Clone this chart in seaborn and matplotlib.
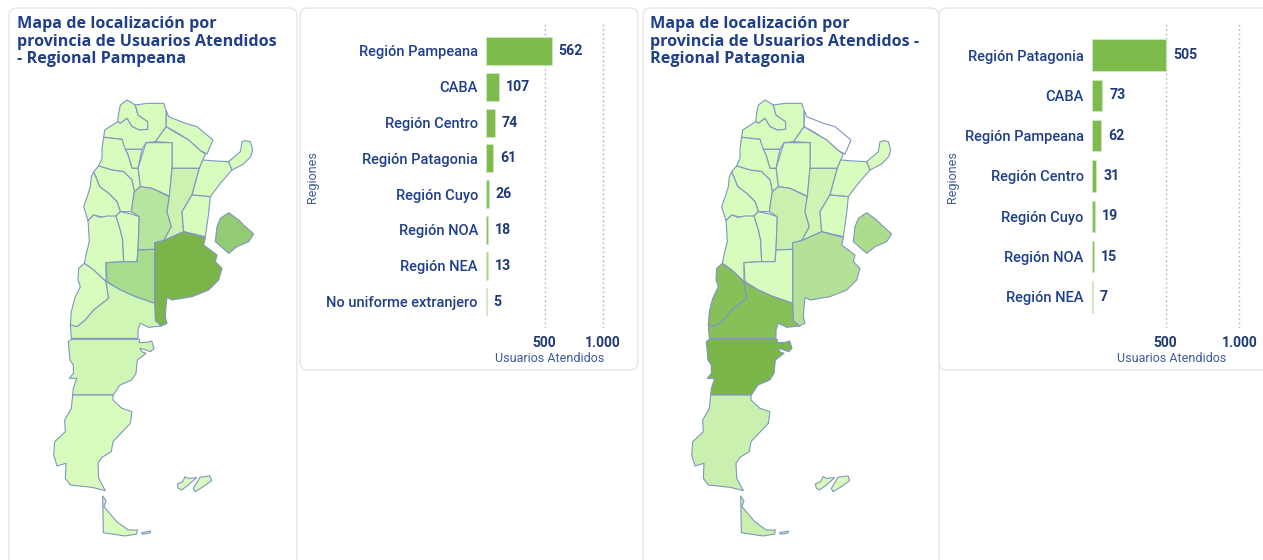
import matplotlib
matplotlib.use("Agg")
import matplotlib.pyplot as plt
from matplotlib.patches import FancyBboxPatch
import pandas as pd
import seaborn as sns

# ---- bar data
regions_a = ["Región Pampeana", "CABA", "Región Centro", "Región Patagonia", "Región Cuyo",
             "Región NOA", "Región NEA", "No uniforme extranjero"]
values_a = [562, 107, 74, 61, 26, 18, 13, 5]
colors_a = ["#7DBB4C", "#7DBB4C", "#7DBB4C", "#7DBB4C", "#84C057", "#84C057", "#A8D88C", "#D3F2BE"]
regions_b = ["Región Patagonia", "CABA", "Región Pampeana", "Región Centro", "Región Cuyo",
             "Región NOA", "Región NEA"]
values_b = [505, 73, 62, 31, 19, 15, 7]
colors_b = ["#7DBB4C", "#7DBB4C", "#7DBB4C", "#7DBB4C", "#84C057", "#84C057", "#C9ECB2"]
xticks = [500, 1000]
xticklabels = ["500", "1.000"]
title_a = "Mapa de localización por\nprovincia de Usuarios Atendidos\n- Regional Pampeana"
title_b = "Mapa de localización por\nprovincia de Usuarios Atendidos -\nRegional Patagonia"

# ---- province outlines (map units)
formosa = [(343,62),(350,80),(400,100),(435,110),(483,150),(465,192),(445,182),(410,150),(370,125),(342,110)]
chaco = [(342,110),(375,130),(410,150),(445,182),(460,192),(442,235),(360,235),(360,158),(310,155)]
santiago = [(282,158),(360,158),(360,235),(352,320),(345,315),(300,295),(265,290),(258,235)]
jujuy = [(197,95),(200,70),(205,45),(225,30),(250,45),(258,75),(287,95),(287,118),(262,120),(240,110),(225,85),(205,100)]
salta = [(250,45),(285,40),(335,40),(342,60),(342,110),(310,155),(282,158),(270,178),(220,178),(215,175),
         (210,148),(155,142),(158,120),(197,95),(205,100),(225,85),(240,110),(262,120),(287,118),(287,95),(258,75)]
tucuman = [(220,178),(270,178),(258,235),(240,235),(228,195)]
catamarca = [(155,142),(210,148),(220,178),(228,195),(240,235),(258,235),(265,290),(247,305),(240,270),
             (215,245),(180,240),(140,228),(150,205),(150,175)]
la_rioja = [(140,228),(180,240),(215,245),(240,270),(247,305),(238,365),(205,365),(195,335),(170,310),
            (143,290),(125,245)]
san_juan = [(125,245),(143,290),(170,310),(195,335),(205,365),(192,378),(165,385),(145,380),(125,375),
            (108,392),(95,350),(105,322),(115,290),(118,260)]
mendoza = [(108,392),(125,375),(145,382),(165,378),(192,378),(205,420),(212,450),(215,515),(162,518),(162,575),
           (125,540),(97,520),(103,490),(112,455),(110,420)]
san_luis = [(192,378),(205,365),(238,372),(262,380),(258,480),(255,515),(215,515),(212,450),(205,420)]
cordoba = [(238,365),(247,305),(265,290),(300,295),(352,320),(345,365),(358,410),(335,452),(308,458),
           (308,478),(258,480),(262,380)]
santa_fe = [(360,235),(442,235),(420,315),(390,365),(395,425),(335,452),(358,410),(345,365),(352,320)]
corrientes = [(452,210),(490,213),(530,215),(540,240),(505,280),(475,320),(420,315),(442,235)]
misiones = [(530,215),(565,185),(570,155),(582,152),(595,155),(602,180),(596,200),(575,222),(540,240)]
entre_rios = [(420,315),(475,320),(470,370),(460,440),(395,425),(390,365)]
buenos_aires = [(308,458),(335,452),(395,425),(460,443),(455,465),(495,495),(490,515),(510,535),(500,570),(470,600),
                (420,620),(360,630),(345,622),(342,650),(340,680),(345,700),(328,708),(310,692),(308,640)]
la_pampa = [(162,518),(215,515),(255,515),(258,480),(308,478),(308,640),(250,620),(205,600),(165,575)]
caba = [(530,368),(560,390),(575,405),(605,432),(590,455),(555,470),(530,490),(490,455),(495,410),(505,385)]
neuquen = [(97,520),(125,540),(162,575),(170,625),(125,660),(100,690),(75,710),(55,705),(58,665),(68,625),(85,590),
           (78,570),(80,535)]
rio_negro = [(162,575),(205,600),(250,620),(308,640),(310,692),(328,708),(290,712),(265,700),(258,720),(258,745),
             (58,745),(55,705),(75,710),(100,690),(125,660),(170,625)]
chubut = [(58,748),(262,748),(262,758),(286,757),(299,753),(306,775),(296,785),(282,780),(264,775),(269,785),(282,790),
          (256,810),(252,850),(239,870),(204,885),(184,915),(62,915),(64,895),(74,865),(52,865),(64,850),(64,825),
          (54,810),(49,755)]
santa_cruz = [(62,915),(58,955),(38,990),(40,1025),(8,1055),(5,1095),(15,1128),(42,1120),(40,1165),(55,1185),
              (120,1192),(160,1202),(140,1165),(138,1120),(150,1102),(178,1085),(183,1055),(235,1000),(240,965),
              (210,955),(183,930),(183,915)]
tierra = [(152,1218),(162,1232),(156,1250),(194,1295),(229,1320),(256,1320),(254,1332),(219,1338),(154,1328)]
isla = [(269,1328),(296,1323),(294,1329),(272,1333)]
malv_w = [(376,1182),(392,1175),(399,1160),(409,1165),(434,1163),(409,1185),(389,1200),(379,1195)]
malv_e = [(424,1195),(444,1162),(455,1160),(474,1158),(479,1172),(454,1190),(429,1205)]

provinces = [formosa, chaco, santiago, jujuy, salta, tucuman, catamarca, la_rioja, san_juan, mendoza, san_luis,
             cordoba, santa_fe, corrientes, misiones, entre_rios, buenos_aires, la_pampa, caba, neuquen, rio_negro,
             chubut, santa_cruz, tierra, isla, malv_w, malv_e]

BASE = "#D8FBBE"
map_a = [BASE]*27
for p, c in [(buenos_aires, "#7BB54A"), (caba, "#92CB74"), (la_pampa, "#A7DC8C"), (cordoba, "#B8E59E"),
             (santa_fe, "#CBF2B0"), (rio_negro, "#CFF6B5"), (chubut, "#CFF6B5")]:
    map_a[[id(q) for q in provinces].index(id(p))] = c
map_b = [BASE]*27
for p, c in [(formosa, "#FFFFFF"), (chubut, "#7AB648"), (rio_negro, "#87C058"), (neuquen, "#87C058"),
             (buenos_aires, "#B4E197"), (caba, "#ABDD8C"), (cordoba, "#C9F0AF"), (santa_fe, "#CFF5B5"),
             (santa_cruz, "#C9F0AF"), (tierra, "#C9F0AF")]:
    map_b[[id(q) for q in provinces].index(id(p))] = c

NAVY = "#1F3F8C"
W, H = 1263, 560
sns.set_theme(style="white")
plt.rcParams["font.family"] = ["Roboto", "DejaVu Sans"]
fig = plt.figure(figsize=(W/100, H/100), dpi=100, facecolor="white")


def axes_px(x0, y0, x1, y1):
    return fig.add_axes([x0/W, 1-y1/H, (x1-x0)/W, (y1-y0)/H])


bg = axes_px(0, 0, W, H)
bg.set_xlim(0, W)
bg.set_ylim(H, 0)
bg.axis("off")
for x0, y0, x1, y1 in [(9, 8, 297, 600), (300, 8, 638, 370), (643, 8, 939, 600), (939, 8, 1300, 370)]:
    bg.add_patch(FancyBboxPatch((x0+6, y0+6), x1-x0-12, y1-y0-12, boxstyle="round,pad=6,rounding_size=8",
                                fc="white", ec="#E6E6E8", lw=1.0))
for x, t in [(17, title_a), (650, title_b)]:
    bg.text(x, 41.5, t, color=NAVY, fontsize=11.6, fontweight="bold", family=["Open Sans", "DejaVu Sans"],
            va="center", ha="left", linespacing=1.12)


def draw_map(x0, colors):
    ax = axes_px(x0, 90, x0+210, 90+450)
    ax.set_xlim(0, 630)
    ax.set_ylim(1350, 0)
    ax.axis("off")
    for poly, col in zip(provinces, colors):
        ax.fill([p[0] for p in poly], [p[1] for p in poly], fc=col, ec="#7F96C0", lw=0.8, joinstyle="round")


draw_map(52, map_a)
draw_map(690, map_b)


def draw_bars(x0, x1, xmax, regions, values, colors, ymin, ymax, lab_x, lab_y, ylab_x):
    ax = axes_px(x0, 24, x1, 328)
    df = pd.DataFrame({"region": regions, "value": values})
    sns.barplot(data=df, y="region", x="value", hue="region", palette=colors, legend=False, saturation=1,
                order=regions, ax=ax, width=0.78, edgecolor="#CFE8BE", linewidth=0.6)
    ax.set_xlim(0, xmax)
    ax.set_ylim(ymax, ymin)
    ax.set_xticks(xticks, xticklabels)
    ax.xaxis.grid(True, linestyle=(0, (1, 2.2)), color="#94A8D0", linewidth=1.0)
    ax.set_axisbelow(True)
    sns.despine(ax=ax, left=True, bottom=True)
    ax.patch.set_alpha(0)
    ax.tick_params(axis="y", length=0, pad=5.8, labelsize=10.5, labelcolor=NAVY)
    ax.tick_params(axis="x", length=0, pad=5.5, labelsize=10, labelcolor="#1F3A78")
    for t in ax.get_yticklabels():
        t.set_fontweight("medium")
    for t in ax.get_xticklabels():
        t.set_fontweight("bold")
    for c in ax.containers:
        ax.bar_label(c, padding=5, fontsize=10.2, fontweight="bold", color="#1F3A78")
    ax.set_xlabel("Usuarios Atendidos", fontsize=9, color="#3D5A9C", labelpad=0)
    ax.set_ylabel("Regiones", fontsize=9, color="#3D5A9C")
    w = x1-x0
    ax.xaxis.set_label_coords((lab_x-x0)/w, -(lab_y-328)/304, transform=ax.transAxes)
    ax.xaxis.label.set_va("center")
    ax.yaxis.set_label_coords((ylab_x-x0)/w, (328-177)/304, transform=ax.transAxes)
    ax.yaxis.label.set_va("center")


draw_bars(486, 620, 1145, regions_a, values_a, colors_a, -0.754, 7.74, 550, 358, 313)
draw_bars(1091.7, 1261, 1147, regions_b, values_b, colors_b, -0.77, 6.77, 1172, 358, 952)

fig.savefig("out.png", dpi=100, facecolor="white")
